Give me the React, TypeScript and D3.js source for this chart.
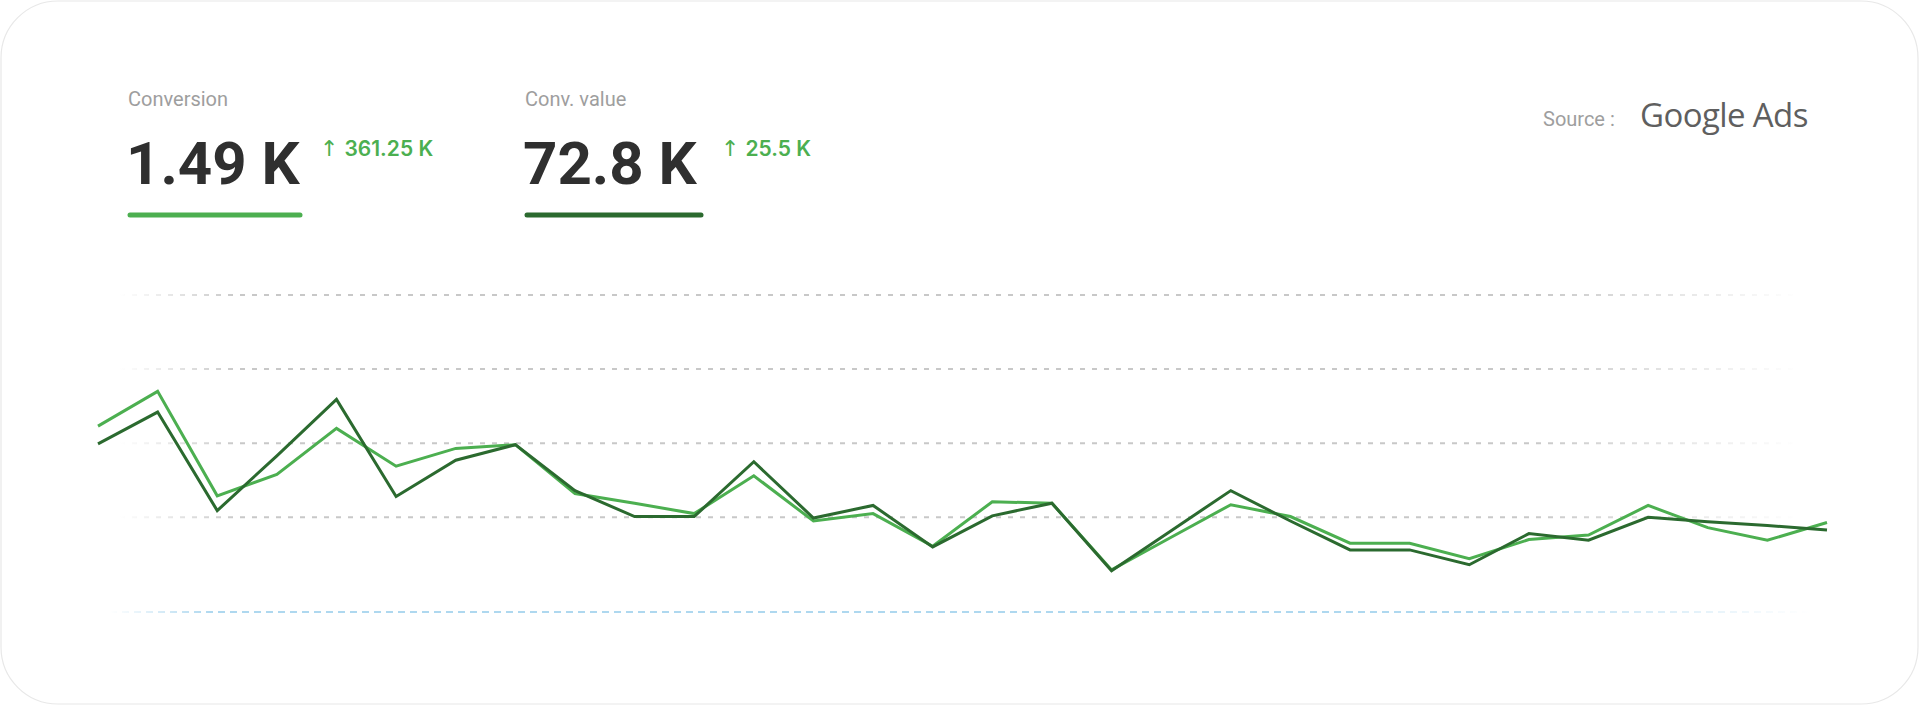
import React from "react";
import * as d3 from "d3";

// ---- data ----
const dayIndex: number[] = d3.range(30);
const conversion: number[] = [223, 270, 129, 158, 220, 169, 193, 198, 132, 119, 105, 156, 95, 105, 61, 121, 119, 29, 73, 117, 101, 65, 65, 44, 70, 76, 116, 86, 69, 93];
const convValue: number[] = [199, 242, 109, 183, 259, 128, 177, 198, 136, 101, 101, 175, 99, 116, 60, 102, 119, 28, 82, 136, 95, 56, 56, 36, 78, 69, 100, 94, 89, 83];
const gridTicks: number[] = [100, 200, 300, 400];

const metrics = [
  { label: "Conversion", value: "1.49 K", delta: "361.25 K", color: "#4caf50" },
  { label: "Conv. value", value: "72.8 K", delta: "25.5 K", color: "#2b6a2f" },
];

const W = 1920;
const H = 706;
const plotLeft = 98;
const plotRight = 1827;
const plotBottom = 612;

export default function App() {
  const x = d3.scaleLinear().domain([0, dayIndex.length - 1]).range([plotLeft, plotRight]);
  const y = d3.scaleLinear().domain([0, 400]).range([591.4, 295]);
  const line = d3
    .line<number>()
    .x((_, i) => x(dayIndex[i]))
    .y((d) => y(d));

  const metricX = [128, 525];
  const underlineW = [174, 178];
  const deltaX = [320, 721];

  return (
    <svg
      width={W}
      height={H}
      style={{ position: "absolute", left: 0, top: 0, fontFamily: "Roboto, 'Liberation Sans', sans-serif" }}
    >
      <defs>
        <linearGradient id="gridFade" gradientUnits="userSpaceOnUse" x1={120} x2={1800} y1={0} y2={0}>
          <stop offset="0" stopColor="#c8c8c8" stopOpacity={0} />
          <stop offset="0.07" stopColor="#c8c8c8" stopOpacity={1} />
          <stop offset="0.84" stopColor="#c8c8c8" stopOpacity={1} />
          <stop offset="1" stopColor="#c8c8c8" stopOpacity={0} />
        </linearGradient>
        <linearGradient id="axisFade" gradientUnits="userSpaceOnUse" x1={110} x2={1810} y1={0} y2={0}>
          <stop offset="0" stopColor="#94cbea" stopOpacity={0} />
          <stop offset="0.06" stopColor="#94cbea" stopOpacity={1} />
          <stop offset="0.8" stopColor="#94cbea" stopOpacity={1} />
          <stop offset="1" stopColor="#94cbea" stopOpacity={0} />
        </linearGradient>
      </defs>
      <rect x={1} y={1} width={W - 3} height={H - 3} rx={57} ry={57} fill="#fff" stroke="#e8e8e8" strokeWidth={1.2} />

      {metrics.map((m, i) => (
        <g key={m.label}>
          <text x={metricX[i]} y={106} fontSize={20} fill="#9e9e9e">
            {m.label}
          </text>
          <text x={metricX[i] - 2} y={184} fontSize={60} fontWeight={700} fill="#2f2f2f">
            {m.value}
          </text>
          <text x={deltaX[i]} y={156} fill="#4caf50">
            <tspan fontSize={22} fontWeight={400} fontFamily="'DejaVu Sans', sans-serif">↑</tspan>
            <tspan dx={6} fontSize={21} fontWeight={600} fontFamily="Inter, Roboto, sans-serif">{m.delta}</tspan>
          </text>
          <line
            x1={metricX[i] + 2}
            x2={metricX[i] + underlineW[i] - 2}
            y1={215}
            y2={215}
            stroke={m.color}
            strokeWidth={5}
            strokeLinecap="round"
          />
        </g>
      ))}

      <text x={1543} y={126} fontSize={20} fill="#9e9e9e">
        Source :
      </text>
      <text x={1640} y={127} fontSize={33} fontWeight={500} fill="#5f5f5f" fontFamily="'Open Sans', Roboto, sans-serif" letterSpacing={-0.6}>
        Google Ads
      </text>

      {gridTicks.map((t) => (
        <line key={t} x1={120} x2={1800} y1={y(t)} y2={y(t)} stroke="url(#gridFade)" strokeWidth={2} strokeDasharray="5 7" />
      ))}
      <line x1={110} x2={1810} y1={plotBottom} y2={plotBottom} stroke="url(#axisFade)" strokeWidth={1.5} strokeDasharray="7 5" />

      <path d={line(conversion) || ""} fill="none" stroke="#4caf50" strokeWidth={3} />
      <path d={line(convValue) || ""} fill="none" stroke="#2b6a2f" strokeWidth={3} />
    </svg>
  );
}
